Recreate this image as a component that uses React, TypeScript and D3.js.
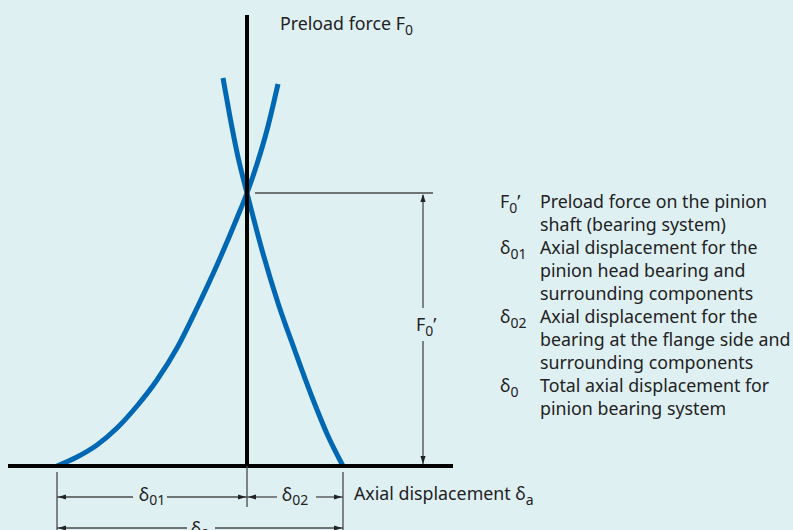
import React from 'react';
import * as d3 from 'd3';

// displacement (x) vs force (y); origin = crossing of the axes
const headBearingCurve: [number, number][] = [
  [-190, 0], [-170, 9], [-150, 21], [-130, 38], [-110, 60], [-90, 86], [-70, 118],
  [-50, 158], [-30, 201], [-10, 248], [0, 273], [10, 302], [20, 336], [31, 382],
];
const flangeBearingCurve: [number, number][] = [
  [-24, 388], [-17, 349], [-9, 309], [0, 273], [15, 216], [31, 163], [48, 115],
  [65, 69], [81, 30], [96, 0],
];

const preloadForce = 273;
const delta01 = -190;
const delta02 = 96;

const legendSymbols = ['F', 'δ', 'δ', 'δ'];
const legendSubs = ['0', '01', '02', '0'];
const legendPrimes = [true, false, false, false];
const legendLines = [
  ['Preload force on the pinion', 'shaft (bearing system)'],
  ['Axial displacement for the', 'pinion head bearing and', 'surrounding components'],
  ['Axial displacement for the', 'bearing at the flange side and', 'surrounding components'],
  ['Total axial displacement for', 'pinion bearing system'],
];

const W = 793, H = 530;
const FONT = '"Noto Sans", sans-serif';
const FS = 17.8;
const SUB = 14;
const BLUE = '#0068b3';
const GREY = '#4a4a4a';
const INK = '#222';

function Arrow({x, y, dir}: {x: number, y: number, dir: 'l'|'r'|'u'|'d'}) {
  const len = 8, hw = 2.6;
  let pts: number[][];
  if (dir === 'l') pts = [[x, y], [x + len, y - hw], [x + len, y + hw]];
  else if (dir === 'r') pts = [[x, y], [x - len, y - hw], [x - len, y + hw]];
  else if (dir === 'u') pts = [[x, y], [x - hw, y + len], [x + hw, y + len]];
  else pts = [[x, y], [x - hw, y - len], [x + hw, y - len]];
  return <polygon points={pts.map(p => p.join(',')).join(' ')} fill="#222" />;
}

export default function App() {
  const x = d3.scaleLinear().domain([-239, 206]).range([8, 453]);
  const y = d3.scaleLinear().domain([0, 451]).range([466, 15]);

  const line = d3.line<[number, number]>()
    .x(d => x(d[0])).y(d => y(d[1]))
    .curve(d3.curveMonotoneX);

  const x0 = x(0), xa = x(delta01), xb = x(delta02);
  const yBase = y(0), yF = y(preloadForce);
  const dimX = 423;
  const dimY1 = 497, dimY2 = 528;

  const lineH = 23;
  const startY = 208;
  let row = 0;

  return (
    <svg width={W} height={H} style={{position: 'fixed', left: 0, top: 0}}
      fontFamily={FONT}>
      <rect width={W} height={H} fill="#dff0f3" />

      {/* curves */}
      <path d={line(headBearingCurve) || ''} fill="none" stroke={BLUE} strokeWidth={5} />
      <path d={line(flangeBearingCurve) || ''} fill="none" stroke={BLUE} strokeWidth={5} />

      {/* axes */}
      <line x1={x(-239)} x2={x(206)} y1={yBase} y2={yBase} stroke="#000" strokeWidth={4} />
      <line x1={x0} x2={x0} y1={y(451)} y2={yBase} stroke="#000" strokeWidth={4} />

      <text x={280} y={30} fontSize={FS} fill={INK}>
        Preload force F<tspan dy={5} fontSize={SUB}>0</tspan>
      </text>

      {/* F0' dimension */}
      <line x1={255} x2={433} y1={yF} y2={yF} stroke={GREY} strokeWidth={1.3} />
      <line x1={dimX} x2={dimX} y1={yF + 2} y2={308} stroke={GREY} strokeWidth={1.3} />
      <line x1={dimX} x2={dimX} y1={341} y2={yBase - 2} stroke={GREY} strokeWidth={1.3} />
      <Arrow x={dimX} y={yF + 1} dir="u" />
      <Arrow x={dimX} y={yBase - 2} dir="d" />
      <text x={416} y={331} fontSize={FS} fill={INK}>
        F<tspan dy={5} fontSize={SUB}>0</tspan><tspan dy={-5}>’</tspan>
      </text>

      {/* bottom dimensions */}
      <line x1={xa} x2={xa} y1={472} y2={H} stroke={GREY} strokeWidth={1.3} />
      <line x1={x0} x2={x0} y1={yBase} y2={507} stroke={GREY} strokeWidth={1.3} />
      <line x1={xb} x2={xb} y1={472} y2={H} stroke={GREY} strokeWidth={1.3} />

      <line x1={xa} x2={133} y1={dimY1} y2={dimY1} stroke={GREY} strokeWidth={1.3} />
      <line x1={167} x2={x0} y1={dimY1} y2={dimY1} stroke={GREY} strokeWidth={1.3} />
      <Arrow x={xa + 1} y={dimY1} dir="l" />
      <Arrow x={x0 - 1} y={dimY1} dir="r" />
      <text x={(xa + x0) / 2} y={501} fontSize={FS} fill={INK} textAnchor="middle">
        δ<tspan dy={4} fontSize={SUB}>01</tspan>
      </text>

      <line x1={x0} x2={277} y1={dimY1} y2={dimY1} stroke={GREY} strokeWidth={1.3} />
      <line x1={316} x2={xb} y1={dimY1} y2={dimY1} stroke={GREY} strokeWidth={1.3} />
      <Arrow x={x0 + 1} y={dimY1} dir="l" />
      <Arrow x={xb - 1} y={dimY1} dir="r" />
      <text x={(x0 + xb) / 2} y={501} fontSize={FS} fill={INK} textAnchor="middle">
        δ<tspan dy={4} fontSize={SUB}>02</tspan>
      </text>

      <line x1={xa} x2={187} y1={dimY2} y2={dimY2} stroke={GREY} strokeWidth={1.3} />
      <line x1={215} x2={xb} y1={dimY2} y2={dimY2} stroke={GREY} strokeWidth={1.3} />
      <Arrow x={xa + 1} y={dimY2} dir="l" />
      <Arrow x={xb - 1} y={dimY2} dir="r" />
      <text x={(xa + xb) / 2} y={535} fontSize={FS} fill={INK} textAnchor="middle">
        δ<tspan dy={4} fontSize={SUB}>0</tspan>
      </text>

      <text x={354} y={500} fontSize={FS} fill={INK}>
        Axial displacement δ<tspan dy={5} fontSize={SUB}>a</tspan>
      </text>

      {/* legend */}
      {legendLines.map((lines, i) => {
        const top = startY + row * lineH;
        row += lines.length;
        return (
          <g key={i}>
            <text x={500} y={top} fontSize={FS} fill={INK}>
              {legendSymbols[i]}<tspan dy={5} fontSize={SUB}>{legendSubs[i]}</tspan>
              {legendPrimes[i] && <tspan dy={-5}>’</tspan>}
            </text>
            {lines.map((t, j) => (
              <text key={j} x={540} y={top + j * lineH} fontSize={FS} fill={INK}>{t}</text>
            ))}
          </g>
        );
      })}
    </svg>
  );
}
